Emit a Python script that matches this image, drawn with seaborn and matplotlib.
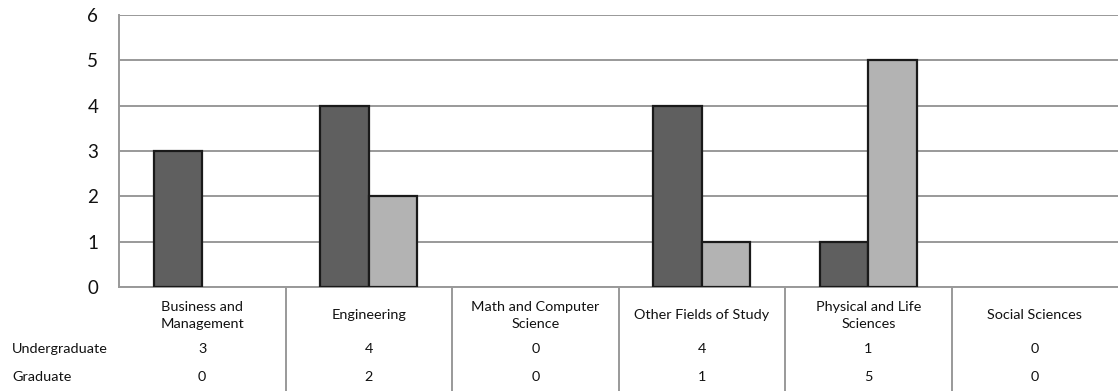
import pandas as pd
import numpy as np
import matplotlib
matplotlib.use("Agg")
import matplotlib.pyplot as plt
import seaborn as sns

# chart data
categories = ["Business and Management", "Engineering", "Math and Computer Science",
              "Other Fields of Study", "Physical and Life Sciences", "Social Sciences"]
category_labels = ["Business and\nManagement", "Engineering", "Math and Computer\nScience",
                   "Other Fields of Study", "Physical and Life\nSciences", "Social Sciences"]
undergraduate = [3, 4, 0, 4, 1, 0]
graduate = [0, 2, 0, 1, 5, 0]
series_names = ["Undergraduate", "Graduate"]
series_colors = ["#5f5f5f", "#b3b3b3"]

df = pd.DataFrame({
    "field": categories * 2,
    "level": [series_names[0]] * len(categories) + [series_names[1]] * len(categories),
    "count": undergraduate + graduate,
})

sns.set_style("white")
plt.rcParams["font.family"] = ["Lato", "DejaVu Sans"]

W, H = 1118, 391
fig = plt.figure(figsize=(W / 100, H / 100), dpi=100)
ax = fig.add_axes([119 / W, (H - 287) / H, (W - 119) / W, (287 - 15) / H])

sns.barplot(data=df, x="field", y="count", hue="level", hue_order=series_names,
            palette=series_colors, width=0.58, edgecolor="#1a1a1a", linewidth=1.6,
            saturation=1, legend=False, ax=ax, zorder=3)
for p in ax.patches:
    if p.get_height() == 0:
        p.set_visible(False)

grid_color = "#999999"
ax.set_xlim(-0.5, len(categories) - 0.5)
ax.set_ylim(0, 6)
ax.set_yticks(range(0, 7))
ax.yaxis.grid(True, color=grid_color, linewidth=1.4, zorder=0)
ax.set_axisbelow(True)
ax.tick_params(axis="y", length=7, width=1.4, color=grid_color, labelsize=13.5,
               pad=8, labelcolor="#111111")
ax.set_xlabel("")
ax.set_ylabel("")

for side in ["top", "right"]:
    ax.spines[side].set_visible(False)
for side in ["left", "bottom"]:
    ax.spines[side].set_color(grid_color)
    ax.spines[side].set_linewidth(1.4)

# data table under the axis
ax.set_xticks(range(len(categories)))
ax.set_xticklabels(category_labels, fontsize=10.4, linespacing=1.5, color="#111111")
ax.tick_params(axis="x", length=0, pad=3)
for lab in ax.get_xticklabels():
    lab.set_verticalalignment("center")
    lab.set_y(-0.088)

trans = ax.get_xaxis_transform()
axes_h = 287 - 15
rows = [undergraduate, graduate]
row_y = [349, 377]
for vals, yp, name in zip(rows, row_y, series_names):
    ya = -(yp - 287) / axes_h
    for i, v in enumerate(vals):
        ax.text(i, ya, str(v), transform=trans, ha="center", va="center",
                fontsize=10.4, color="#111111")
    fig.text(12 / W, (H - yp) / H, name, ha="left", va="center", fontsize=10.4,
             color="#111111")

for b in np.arange(0.5, len(categories) - 0.5, 1.0):
    ax.plot([b, b], [0, -(H - 287) / axes_h], transform=trans, color=grid_color,
            linewidth=1.4, clip_on=False)

fig.savefig("out.png", dpi=100)
